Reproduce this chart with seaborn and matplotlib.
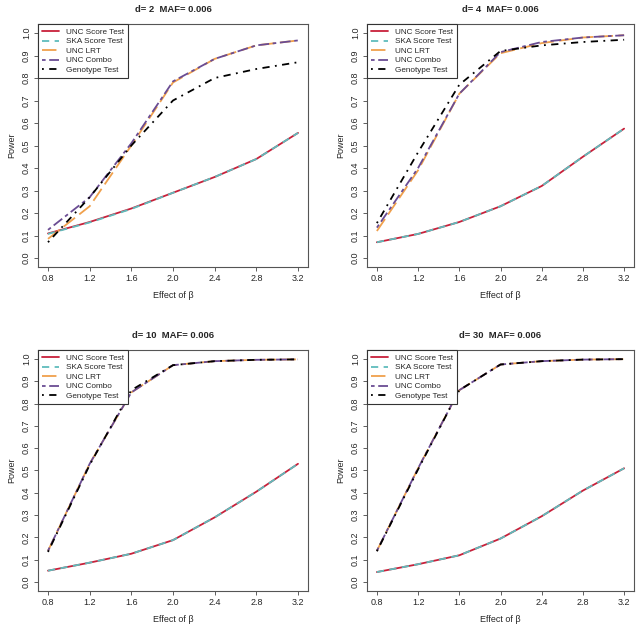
import numpy as np
import pandas as pd
import matplotlib
matplotlib.use("Agg")
import matplotlib.pyplot as plt
import seaborn as sns

beta = [0.8, 1.2, 1.6, 2.0, 2.4, 2.8, 3.2]
tests = ["UNC Score Test", "SKA Score Test", "UNC LRT", "UNC Combo", "Genotype Test"]

# power values per panel (d), one list per test
power_d2 = {
    "UNC Score Test": [0.109, 0.160, 0.220, 0.290, 0.360, 0.440, 0.556],
    "SKA Score Test": [0.107, 0.158, 0.218, 0.290, 0.360, 0.440, 0.556],
    "UNC LRT":        [0.085, 0.230, 0.500, 0.780, 0.885, 0.945, 0.967],
    "UNC Combo":      [0.125, 0.270, 0.510, 0.785, 0.885, 0.945, 0.967],
    "Genotype Test":  [0.070, 0.270, 0.500, 0.700, 0.800, 0.840, 0.870],
}
power_d4 = {
    "UNC Score Test": [0.070, 0.107, 0.160, 0.230, 0.320, 0.450, 0.575],
    "SKA Score Test": [0.070, 0.107, 0.160, 0.230, 0.320, 0.450, 0.575],
    "UNC LRT":        [0.120, 0.390, 0.730, 0.910, 0.955, 0.980, 0.990],
    "UNC Combo":      [0.135, 0.400, 0.730, 0.915, 0.960, 0.980, 0.990],
    "Genotype Test":  [0.155, 0.470, 0.770, 0.920, 0.945, 0.960, 0.970],
}
power_d10 = {
    "UNC Score Test": [0.051, 0.087, 0.127, 0.188, 0.290, 0.405, 0.530],
    "SKA Score Test": [0.051, 0.087, 0.127, 0.188, 0.290, 0.405, 0.530],
    "UNC LRT":        [0.140, 0.530, 0.850, 0.972, 0.990, 0.996, 0.998],
    "UNC Combo":      [0.140, 0.530, 0.850, 0.972, 0.990, 0.996, 0.998],
    "Genotype Test":  [0.135, 0.525, 0.860, 0.972, 0.990, 0.996, 0.998],
}
power_d30 = {
    "UNC Score Test": [0.045, 0.080, 0.120, 0.195, 0.295, 0.410, 0.510],
    "SKA Score Test": [0.045, 0.080, 0.120, 0.195, 0.295, 0.410, 0.510],
    "UNC LRT":        [0.140, 0.510, 0.860, 0.975, 0.990, 0.997, 0.999],
    "UNC Combo":      [0.140, 0.510, 0.860, 0.975, 0.990, 0.997, 0.999],
    "Genotype Test":  [0.138, 0.505, 0.860, 0.975, 0.990, 0.997, 0.999],
}
panels = [("d= 2  MAF= 0.006", power_d2), ("d= 4  MAF= 0.006", power_d4),
          ("d= 10  MAF= 0.006", power_d10), ("d= 30  MAF= 0.006", power_d30)]

colors = {"UNC Score Test": "#c8203a", "SKA Score Test": "#5fbcbc",
          "UNC LRT": "#f0a04c", "UNC Combo": "#6a4c93", "Genotype Test": "#000000"}
styles = {"UNC Score Test": "-", "SKA Score Test": (0, (4, 3)),
          "UNC LRT": (0, (8, 3)), "UNC Combo": (0, (2, 2, 6, 2)),
          "Genotype Test": (0, (1, 3, 4, 3))}

sns.set_style("white")
plt.rcParams["font.family"] = ["Liberation Sans", "DejaVu Sans"]

fig = plt.figure(figsize=(6.4, 6.29), dpi=100)
W, H = 640, 629
# axes boxes in pixels: (left, top, right, bottom)
boxes = [(38, 24, 308, 267), (367, 24, 634, 267),
         (38, 350, 308, 591), (367, 350, 634, 591)]

for (title, data), (l, t, r, b) in zip(panels, boxes):
    ax = fig.add_axes([l / W, 1 - b / H, (r - l) / W, (b - t) / H])
    for name in tests:
        df = pd.DataFrame({"beta": beta, "power": data[name]})
        sns.lineplot(data=df, x="beta", y="power", ax=ax, color=colors[name],
                     linestyle=styles[name], linewidth=1.3, label=name)
    ax.set_xlim(0.704, 3.296)
    ax.set_ylim(-0.04, 1.04)
    ax.set_xticks(beta)
    ax.set_xticklabels([f"{v:.1f}" for v in beta])
    yt = np.round(np.arange(0, 1.01, 0.1), 1)
    ax.set_yticks(yt)
    ax.set_yticklabels([f"{v:.1f}" for v in yt], rotation=90, va="center")
    ax.tick_params(axis="both", direction="out", length=3, width=0.6,
                   labelsize=6.5, color="#444444", pad=2, left=True, bottom=True)
    for sp in ax.spines.values():
        sp.set_color("#555555")
        sp.set_linewidth(0.8)
    ax.set_xlabel("Effect of β", fontsize=6.5, labelpad=6)
    ax.set_ylabel("Power", fontsize=6.5, labelpad=4)
    ax.set_title(title, fontsize=6.8, fontweight="bold", pad=9)
    leg = ax.legend(loc="upper left", bbox_to_anchor=(0, 1), borderaxespad=0,
                    fontsize=5.9, handlelength=2.1, handletextpad=0.8,
                    labelspacing=0.22, borderpad=0.5, fancybox=False,
                    framealpha=1)
    leg.get_frame().set_edgecolor("#333333")
    leg.get_frame().set_linewidth(0.8)

fig.savefig("out.png", dpi=100, facecolor="white")
